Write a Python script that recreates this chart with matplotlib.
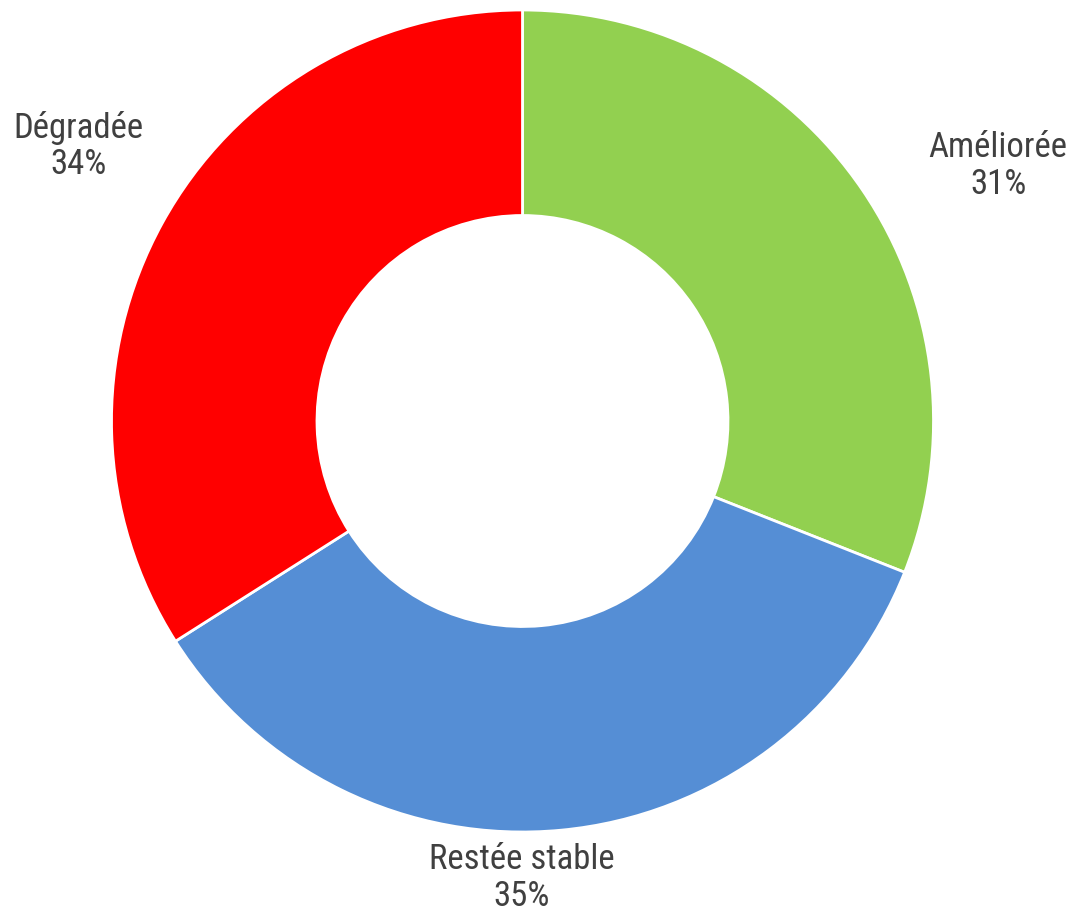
import matplotlib
matplotlib.use("Agg")
import matplotlib.pyplot as plt

categories = ["Améliorée", "Restée stable", "Dégradée"]
values = [31, 35, 34]
colors = ["#92D050", "#558ED5", "#FF0000"]

FONT = ["Roboto Condensed", "Archivo Narrow", "Liberation Sans", "DejaVu Sans"]

W, H = 1072, 920
fig = plt.figure(figsize=(W / 100, H / 100), dpi=100)
ax = fig.add_axes([0, 0, 1, 1])

cx, cy, R = 522.5, H - 422, 411
ax.pie(values, colors=colors, startangle=90, counterclock=False,
       center=(cx, cy), radius=R, frame=True,
       wedgeprops=dict(width=R * 0.5, edgecolor="white", linewidth=2))
ax.set_xlim(0, W)
ax.set_ylim(0, H)
ax.set_aspect("equal")
ax.axis("off")

label_pos = [(998, H - 166), (522, H - 878), (78, H - 146)]
for (x, y), c, v in zip(label_pos, categories, values):
    ax.text(x, y, f"{c}\n{v}%", ha="center", va="center", fontsize=25,
            family=FONT, color="#404040", linespacing=1.12)

fig.savefig("out.png", dpi=100)
